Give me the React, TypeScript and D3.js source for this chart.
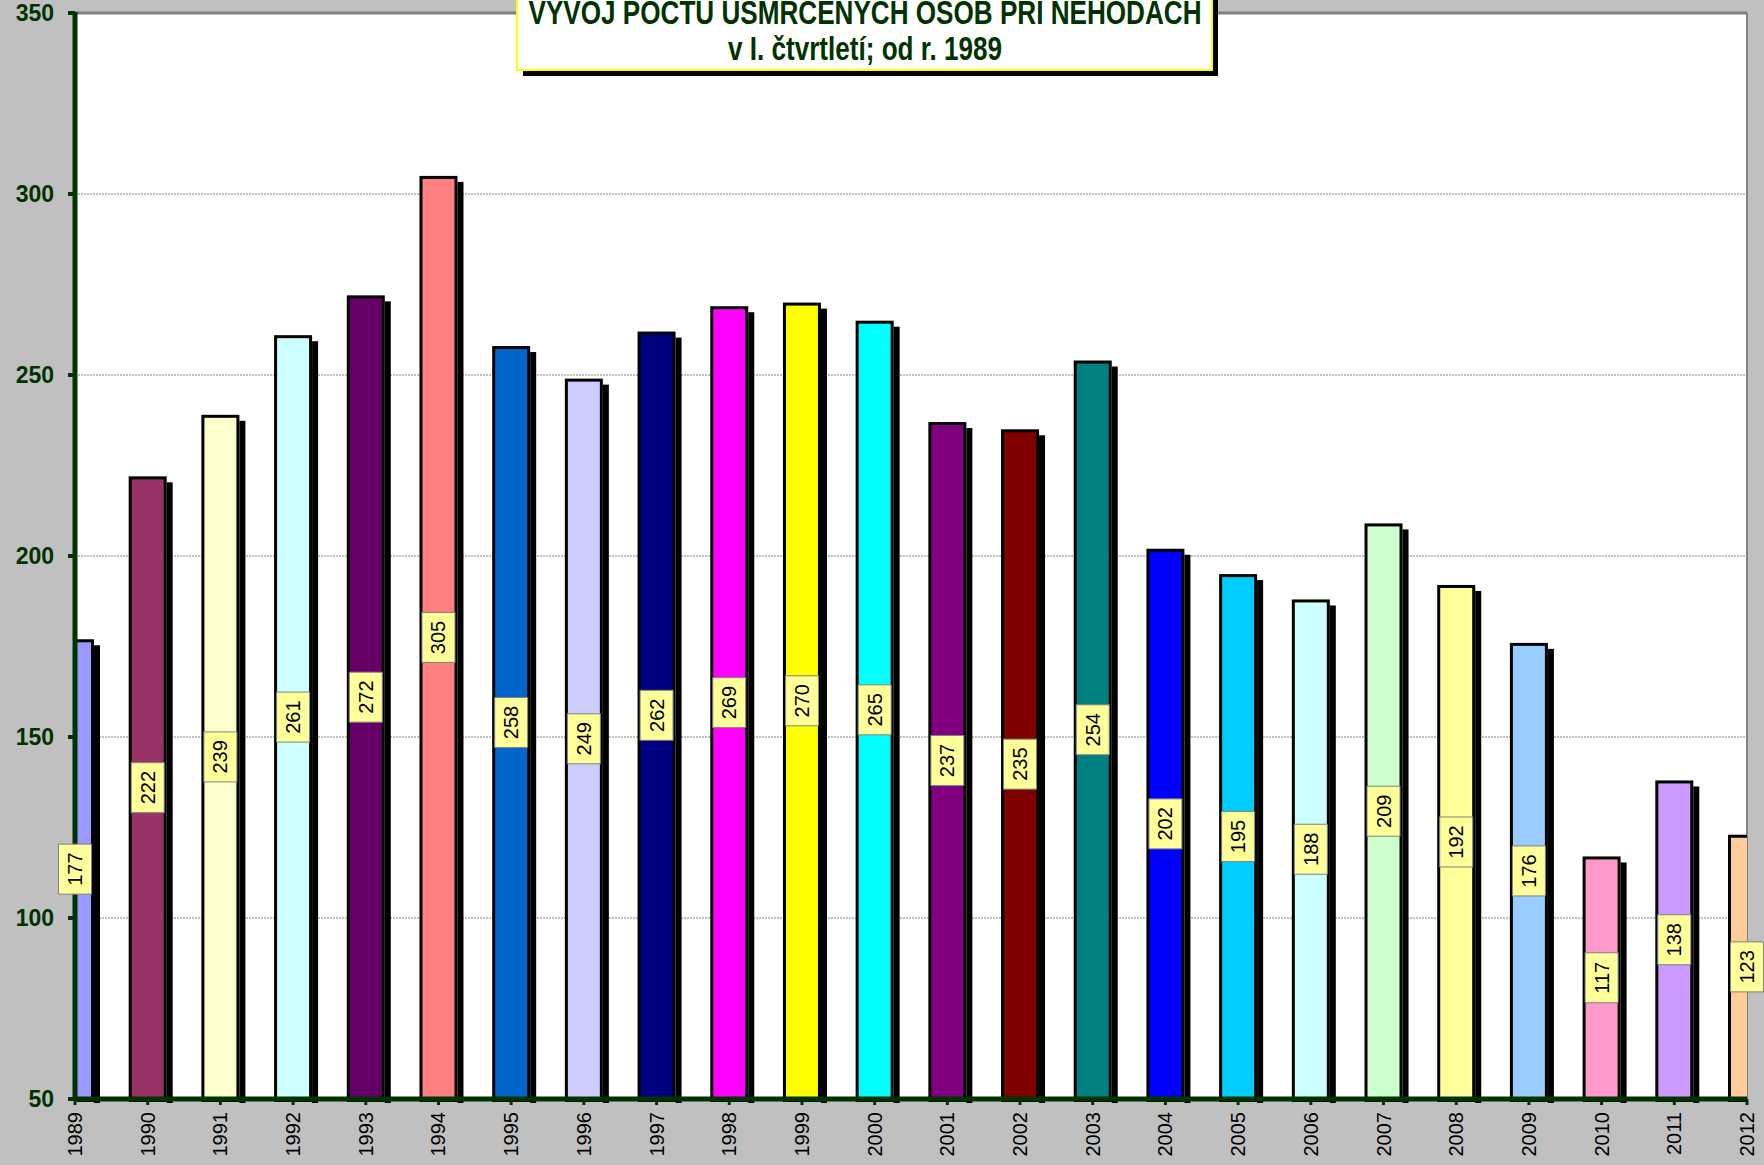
import React from "react";
import * as d3 from "d3";

const years = ["1989","1990","1991","1992","1993","1994","1995","1996","1997","1998","1999","2000","2001","2002","2003","2004","2005","2006","2007","2008","2009","2010","2011","2012"];
const values = [177,222,239,261,272,305,258,249,262,269,270,265,237,235,254,202,195,188,209,192,176,117,138,123];
const colors = ["#9999FF","#993366","#FFFFCC","#CCFFFF","#660066","#FF8080","#0066CC","#CCCCFF","#000080","#FF00FF","#FFFF00","#00FFFF","#800080","#800000","#008080","#0000FF","#00CCFF","#CCFFFF","#CCFFCC","#FFFF99","#99CCFF","#FF99CC","#CC99FF","#FFCC99"];
const yTicks = [50,100,150,200,250,300,350];
const titleLines = ["VYVOJ POCTU USMRCENYCH OSOB PRI NEHODACH", "v I. čtvrtletí; od r. 1989"];

const W = 1764, H = 1165;
const left = 75, right = 1747, top = 13, bottom = 1099;
const green = "#003300";

export default function App() {
  const x = d3.scalePoint<string>().domain(years).range([left, right]);
  const y = d3.scaleLinear().domain([50, 350]).range([bottom, top]);
  const bw = 38;
  return (
    <svg width={W} height={H} style={{ position: "fixed", left: 0, top: 0 }} fontFamily="'Liberation Sans', Arial, sans-serif">
      <defs>
        <clipPath id="plot">
          <rect x={left + 2} y={top} width={right - left - 2} height={bottom - top + 10} />
        </clipPath>
      </defs>
      <rect x={0} y={0} width={W} height={H} fill="#C0C0C0" />
      <rect x={left} y={top} width={right - left} height={bottom - top} fill="#FFFFFF" />
      {/* plot border top/right */}
      <line x1={left} x2={right} y1={top} y2={top} stroke="#808080" strokeWidth={3} />
      <line x1={right} x2={right} y1={top} y2={bottom} stroke="#808080" strokeWidth={2} />
      {/* gridlines */}
      {yTicks.filter(t => t > 50 && t < 350).map(t => (
        <line key={t} x1={left} x2={right} y1={y(t)} y2={y(t)} stroke="#808080" strokeWidth={1} strokeDasharray="2,1" />
      ))}
      {/* bars */}
      <g clipPath="url(#plot)">
        {years.map((yr, i) => {
          const cx = x(yr)!;
          const v = values[i];
          return (
            <g key={yr}>
              <rect x={cx + bw / 2} y={y(v) + 6} width={6} height={bottom + 4 - (y(v) + 6)} fill="#000" />
              <rect x={cx - bw / 2 + 1.5} y={y(v) + 1.5} width={bw - 3} height={bottom - y(v)} fill={colors[i]} stroke="#000" strokeWidth={3} />
            </g>
          );
        })}
      </g>
      {/* axes */}
      <line x1={left} x2={right} y1={bottom} y2={bottom} stroke={green} strokeWidth={5} />
      {years.map(yr => (
        <line key={yr} x1={x(yr)} x2={x(yr)} y1={bottom} y2={bottom + 6} stroke={green} strokeWidth={3} />
      ))}
      <line x1={left} x2={left} y1={top - 1} y2={bottom + 2} stroke={green} strokeWidth={5} />
      {yTicks.map(t => (
        <g key={t}>
          <line x1={left - 7} x2={left} y1={y(t)} y2={y(t)} stroke={green} strokeWidth={4} />
          <text x={54} y={y(t)} dy="0.35em" textAnchor="end" fontSize={23} fontWeight="bold" fill={green}>{t}</text>
        </g>
      ))}
      {/* x labels */}
      {years.map(yr => (
        <text key={yr} transform={`translate(${x(yr)! + 7},${1112}) rotate(-90)`} textAnchor="end" fontSize={20} fill="#000">{yr}</text>
      ))}
      {/* data labels */}
      {years.map((yr, i) => {
        const cx = x(yr)!;
        const cy = (y(values[i]) + bottom) / 2;
        return (
          <g key={yr}>
            <rect x={cx - 16.5} y={cy - 25} width={33} height={50} fill="#FFFF99" stroke="#808080" strokeWidth={1} />
            <text transform={`translate(${cx + 7},${cy}) rotate(-90)`} textAnchor="middle" fontSize={20} fill="#000">{values[i]}</text>
          </g>
        );
      })}
      {/* title */}
      <rect x={523} y={-10} width={695} height={86} fill="#000" />
      <rect x={517} y={-16} width={695} height={86} fill="#FFFFFF" stroke="#FFFF00" strokeWidth={2} />
      <text x={865} y={24} textAnchor="middle" fontSize={33} fontWeight="bold" fill={green} textLength={673} lengthAdjust="spacingAndGlyphs">{titleLines[0]}</text>
      <text x={865} y={60} textAnchor="middle" fontSize={33} fontWeight="bold" fill={green} textLength={274} lengthAdjust="spacingAndGlyphs">{titleLines[1]}</text>
    </svg>
  );
}
